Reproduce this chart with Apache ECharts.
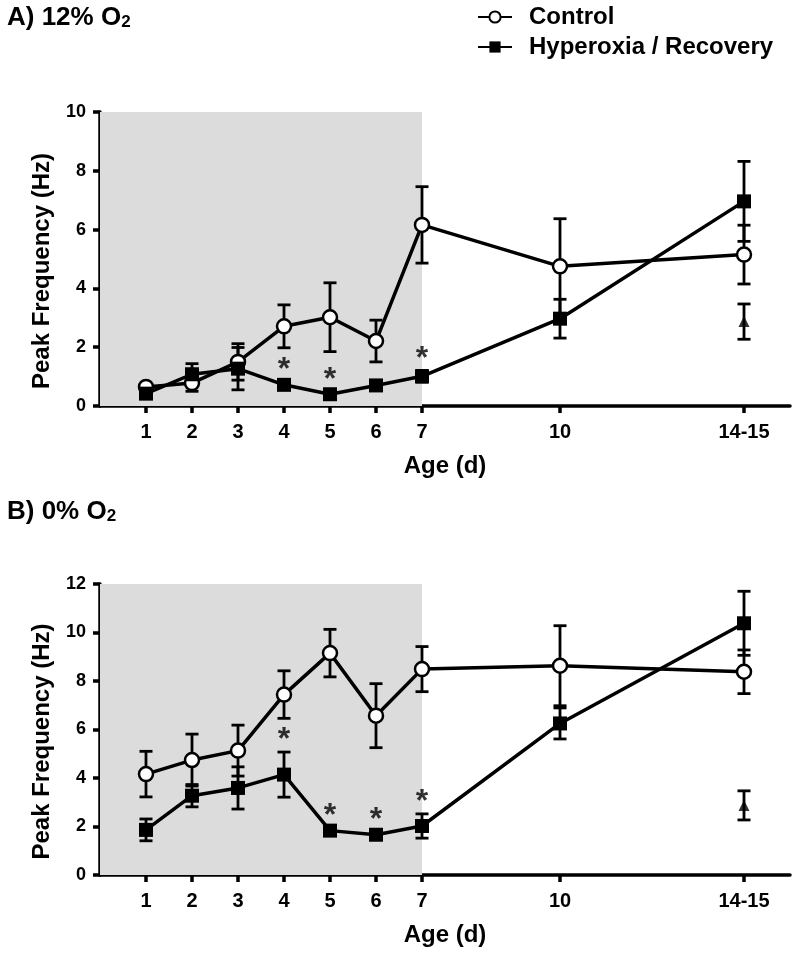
<!DOCTYPE html>
<html>
<head>
<meta charset="utf-8">
<script src="https://cdn.jsdelivr.net/npm/echarts@6.0.0/dist/echarts.min.js"></script>
<style>html,body{margin:0;padding:0;background:#fff;}#chart{width:800px;height:953px;}</style>
</head>
<body>
<div id="chart"></div>
<script>
// ---- data ----
const ages = [1, 2, 3, 4, 5, 6, 7, 10, 14];
const xTickValues = [1, 2, 3, 4, 5, 6, 7, 10, 14];
const xTickLabels = ['1', '2', '3', '4', '5', '6', '7', '10', '14-15'];
const shadeRange = [0, 7];

const aControl = [0.65, 0.78, 1.50, 2.71, 3.02, 2.21, 6.16, 4.75, 5.15];
const aControlSem = [0.08, 0.28, 0.62, 0.73, 1.17, 0.71, 1.30, 1.62, 1.00];
const aHyper = [0.42, 1.08, 1.27, 0.72, 0.40, 0.70, 1.01, 2.97, 6.96];
const aHyperSem = [0.10, 0.36, 0.72, 0.12, 0.10, 0.12, 0.20, 0.66, 1.36];
const aTriangle = [14, 2.87, 0.60];
const aSignificant = [4, 5, 7];

const bControl = [4.16, 4.74, 5.13, 7.44, 9.15, 6.57, 8.49, 8.63, 8.38];
const bControlSem = [0.94, 1.07, 1.05, 0.98, 0.98, 1.32, 0.93, 1.65, 0.90];
const bHyper = [1.86, 3.27, 3.59, 4.14, 1.83, 1.66, 2.02, 6.25, 10.38];
const bHyperSem = [0.45, 0.46, 0.87, 0.93, 0.12, 0.12, 0.50, 0.64, 1.32];
const bTriangle = [14, 2.87, 0.60];
const bSignificant = [4, 5, 6, 7];

const yMaxA = 10, yMaxB = 12, yInterval = 2;

// ---- helpers ----
const FONT = "'Liberation Sans', Arial, sans-serif";
const pts = (vals) => ages.map((a, i) => [a, vals[i]]);
const errs = (vals, sem) => ages.map((a, i) => [a, vals[i] - sem[i], vals[i] + sem[i]]);
const stars = (sig, vals, sem) => sig.map(a => { const i = ages.indexOf(a); return [a, vals[i] + sem[i]]; });

function errRender(params, api) {
  const x = api.value(0), lo = api.value(1), hi = api.value(2);
  const p1 = api.coord([x, lo]), p2 = api.coord([x, hi]);
  const hw = 6.5;
  const st = { stroke: '#000', lineWidth: 2.8 };
  return {
    type: 'group',
    children: [
      { type: 'line', shape: { x1: p1[0], y1: p1[1], x2: p2[0], y2: p2[1] }, style: st },
      { type: 'line', shape: { x1: p1[0] - hw, y1: p1[1], x2: p1[0] + hw, y2: p1[1] }, style: st },
      { type: 'line', shape: { x1: p2[0] - hw, y1: p2[1], x2: p2[0] + hw, y2: p2[1] }, style: st }
    ]
  };
}

function xAxisCfg(idx) {
  return {
    type: 'value', gridIndex: idx, min: 0, max: 15,
    name: 'Age (d)', nameLocation: 'middle', nameGap: 48,
    nameTextStyle: { fontFamily: FONT, fontWeight: 'bold', fontSize: 24, color: '#000' },
    axisLine: { lineStyle: { color: '#000', width: 3.5 } },
    axisTick: { show: true, length: 7, lineStyle: { color: '#000', width: 3.5 }, customValues: xTickValues },
    axisLabel: {
      customValues: xTickValues, margin: 16,
      formatter: (v) => { const i = xTickValues.indexOf(v); return i >= 0 ? xTickLabels[i] : ''; },
      fontFamily: FONT, fontWeight: 'bold', fontSize: 20, color: '#000'
    },
    splitLine: { show: false }
  };
}
function yAxisCfg(idx, max) {
  return {
    type: 'value', gridIndex: idx, min: 0, max: max, interval: yInterval,
    name: 'Peak Frequency (Hz)', nameLocation: 'middle', nameGap: 46,
    nameTextStyle: { fontFamily: FONT, fontWeight: 'bold', fontSize: 24, color: '#000', padding: [0, 24, 0, 0] },
    axisLine: { show: true, lineStyle: { color: '#000', width: 3.5 } },
    axisTick: { show: true, length: 7, lineStyle: { color: '#000', width: 3.5 } },
    axisLabel: { margin: 14, fontFamily: FONT, fontWeight: 'bold', fontSize: 18, color: '#000' },
    splitLine: { show: false }
  };
}

function panelSeries(idx, ctrl, ctrlSem, hyp, hypSem, tri, sig) {
  return [
    {
      type: 'custom', name: 'errC' + idx, xAxisIndex: idx, yAxisIndex: idx, z: 3,
      renderItem: errRender, data: errs(ctrl, ctrlSem), encode: { x: 0, y: [1, 2] }, silent: true
    },
    {
      type: 'custom', name: 'errH' + idx, xAxisIndex: idx, yAxisIndex: idx, z: 3,
      renderItem: errRender, data: errs(hyp, hypSem), encode: { x: 0, y: [1, 2] }, silent: true
    },
    {
      type: 'custom', name: 'errT' + idx, xAxisIndex: idx, yAxisIndex: idx, z: 3,
      renderItem: errRender, data: [[tri[0], tri[1] - tri[2], tri[1] + tri[2]]], encode: { x: 0, y: [1, 2] }, silent: true
    },
    {
      type: 'line', name: 'Control', xAxisIndex: idx, yAxisIndex: idx, z: 4,
      data: pts(ctrl), symbol: 'circle', symbolSize: 14,
      lineStyle: { color: '#000', width: 3.5 },
      itemStyle: { color: '#fff', borderColor: '#000', borderWidth: 2.5 },
      markArea: { silent: true, itemStyle: { color: '#dcdcdc' }, data: [[{ xAxis: shadeRange[0] }, { xAxis: shadeRange[1] }]] }
    },
    {
      type: 'line', name: 'Hyperoxia / Recovery', xAxisIndex: idx, yAxisIndex: idx, z: 5,
      data: pts(hyp), symbol: 'rect', symbolSize: 14,
      lineStyle: { color: '#000', width: 3.5 },
      itemStyle: { color: '#000', borderColor: '#000', borderWidth: 0 }
    },
    {
      type: 'scatter', name: 'tri' + idx, xAxisIndex: idx, yAxisIndex: idx, z: 5,
      data: [[tri[0], tri[1]]], symbol: 'triangle', symbolSize: 11, itemStyle: { color: '#000' }
    },
    {
      type: 'scatter', name: 'sig' + idx, xAxisIndex: idx, yAxisIndex: idx, z: 6,
      data: stars(sig, hyp, hypSem), symbolSize: 1, itemStyle: { color: 'rgba(0,0,0,0)' },
      label: { show: true, formatter: '*', position: 'top', distance: -5, fontFamily: FONT, fontWeight: 'bold', fontSize: 32, color: '#000' }
    }
  ];
}

const chart = echarts.init(document.getElementById('chart'), null, { renderer: 'canvas' });
const titleRich = {
  a: { fontFamily: FONT, fontWeight: 'bold', fontSize: 26, color: '#000', lineHeight: 26 },
  s: { fontFamily: FONT, fontWeight: 'bold', fontSize: 17, color: '#000', lineHeight: 8, verticalAlign: 'bottom' }
};
chart.setOption({
  animation: false,
  backgroundColor: '#fff',
  title: [
    { text: '{a|A) 12% O}{s|2}', left: 7, top: 5, padding: 0, textStyle: { rich: titleRich } },
    { text: '{a|B) 0% O}{s|2}', left: 7, top: 499, padding: 0, textStyle: { rich: titleRich } }
  ],
  legend: {
    data: ['Control', 'Hyperoxia / Recovery'], orient: 'vertical', left: 477, top: 5, padding: 0,
    itemWidth: 34, itemHeight: 14, itemGap: 6, selectedMode: false,
    textStyle: { fontFamily: FONT, fontWeight: 'bold', fontSize: 24, color: '#000', padding: [0, 0, 0, 12] }
  },
  grid: [
    { left: 100, right: 10, top: 112, height: 294 },
    { left: 100, right: 10, top: 584, height: 291 }
  ],
  xAxis: [xAxisCfg(0), xAxisCfg(1)],
  yAxis: [yAxisCfg(0, yMaxA), yAxisCfg(1, yMaxB)],
  series: [].concat(
    panelSeries(0, aControl, aControlSem, aHyper, aHyperSem, aTriangle, aSignificant),
    panelSeries(1, bControl, bControlSem, bHyper, bHyperSem, bTriangle, bSignificant)
  )
});
</script>
</body>
</html>
